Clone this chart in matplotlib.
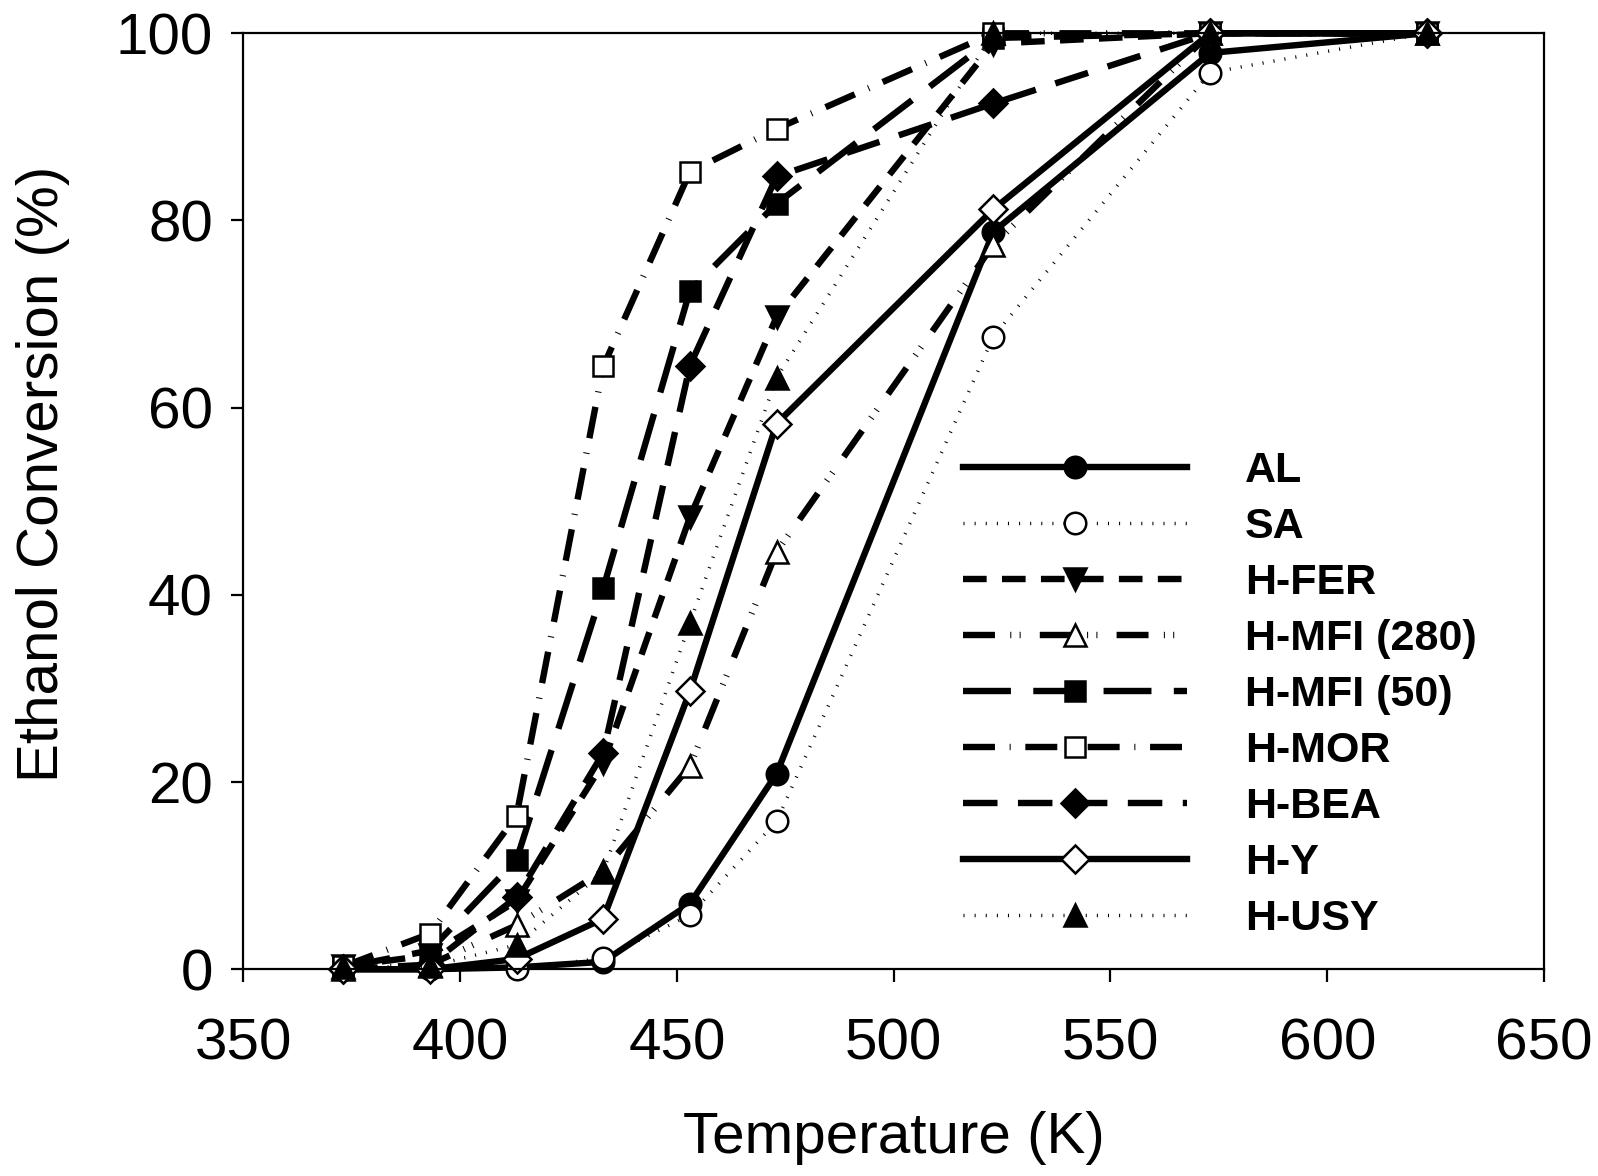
import matplotlib
matplotlib.use('Agg')
import matplotlib.pyplot as plt

plt.rcParams['font.family'] = ['Liberation Sans', 'DejaVu Sans']

# temperatures (K)
temps = [373, 393, 413, 433, 453, 473, 523, 573, 623]

# ethanol conversion (%) per catalyst
al = [0, 0, 0.2, 0.8, 7.0, 20.9, 78.8, 97.9, 100]
sa = [0, 0, 0, 1.2, 5.8, 15.8, 67.6, 95.8, 100]
h_fer = [0.3, 1.5, 7.3, 22.0, 48.3, 69.7, 98.9, 100, 100]
h_mfi280 = [0, 0.5, 4.7, 10.5, 21.7, 44.6, 77.4, 100, 100]
h_mfi50 = [0.2, 2.0, 11.7, 40.7, 72.5, 81.8, 99.5, 100, 100]
h_mor = [0.3, 3.8, 16.4, 64.4, 85.2, 89.8, 100, 100, 100]
h_bea = [0, 0.5, 7.7, 23.1, 64.5, 84.7, 92.5, 100, 100]
h_y = [0, 0, 1.1, 5.4, 29.7, 58.3, 81.2, 100, 100]
h_usy = [0.2, 0.3, 2.6, 10.4, 37.0, 63.2, 100, 100, 100]

labels = ['AL', 'SA', 'H-FER', 'H-MFI (280)', 'H-MFI (50)',
          'H-MOR', 'H-BEA', 'H-Y', 'H-USY']

LW = 4.6
dot = 0.16
# (values, marker, face, linewidth, dash pattern or None for solid, size)
styles = [
    (al, 'o', 'black', LW, None, 15.5),
    (sa, 'o', 'white', 2.5, (0.3, 2.9), 15.5),
    (h_fer, 'v', 'black', LW, (3.7, 2.4), 16.5),
    (h_mfi280, '^', 'white', LW, (5.0, 2.4, dot, 1.3, dot, 3.0), 16.5),
    (h_mfi50, 's', 'black', LW, (7.5, 3.5), 14.5),
    (h_mor, 's', 'white', LW, (5.0, 2.3, dot, 2.3), 14.5),
    (h_bea, 'D', 'black', LW, (5.4, 3.2), 14.5),
    (h_y, 'D', 'white', LW, None, 14.5),
    (h_usy, '^', 'black', 2.5, (0.3, 2.9), 16.5),
]

fig = plt.figure(figsize=(15.98, 11.76), dpi=100)
ax = fig.add_axes([0.1523, 0.1758, 0.8139, 0.7959])

for (vals, mk, face, lw, dashes, ms), lab in zip(styles, labels):
    line, = ax.plot(temps, vals, color='black', lw=lw, marker=mk,
                    markerfacecolor=face, markeredgecolor='black',
                    markeredgewidth=1.8, markersize=ms, label=lab,
                    clip_on=False)
    if dashes is not None:
        line.set_dashes(dashes)

ax.set_xlim(350, 650)
ax.set_ylim(0, 100)
ax.set_xticks(range(350, 651, 50))
ax.set_yticks(range(0, 101, 20))

for sp in ax.spines.values():
    sp.set_linewidth(1.6)
ax.tick_params(axis='both', direction='out', length=9, width=1.6,
               labelsize=42)
ax.tick_params(axis='x', pad=26)
ax.tick_params(axis='y', pad=13)

ax.set_xlabel('Temperature (K)', fontsize=42)
ax.set_ylabel('Ethanol Conversion (%)', fontsize=42)
ax.xaxis.set_label_coords(0.5, -0.151)
ax.yaxis.set_label_coords(-0.133, 0.529)

leg = ax.legend(loc='center left', bbox_to_anchor=(963 / 1598, 1 - 695 / 1176),
                bbox_transform=fig.transFigure, frameon=False, numpoints=1,
                prop={'weight': 'bold', 'size': 31}, handlelength=5.2,
                handletextpad=1.35, labelspacing=0.37, borderpad=0,
                borderaxespad=0)

fig.savefig('out.png', dpi=100)
